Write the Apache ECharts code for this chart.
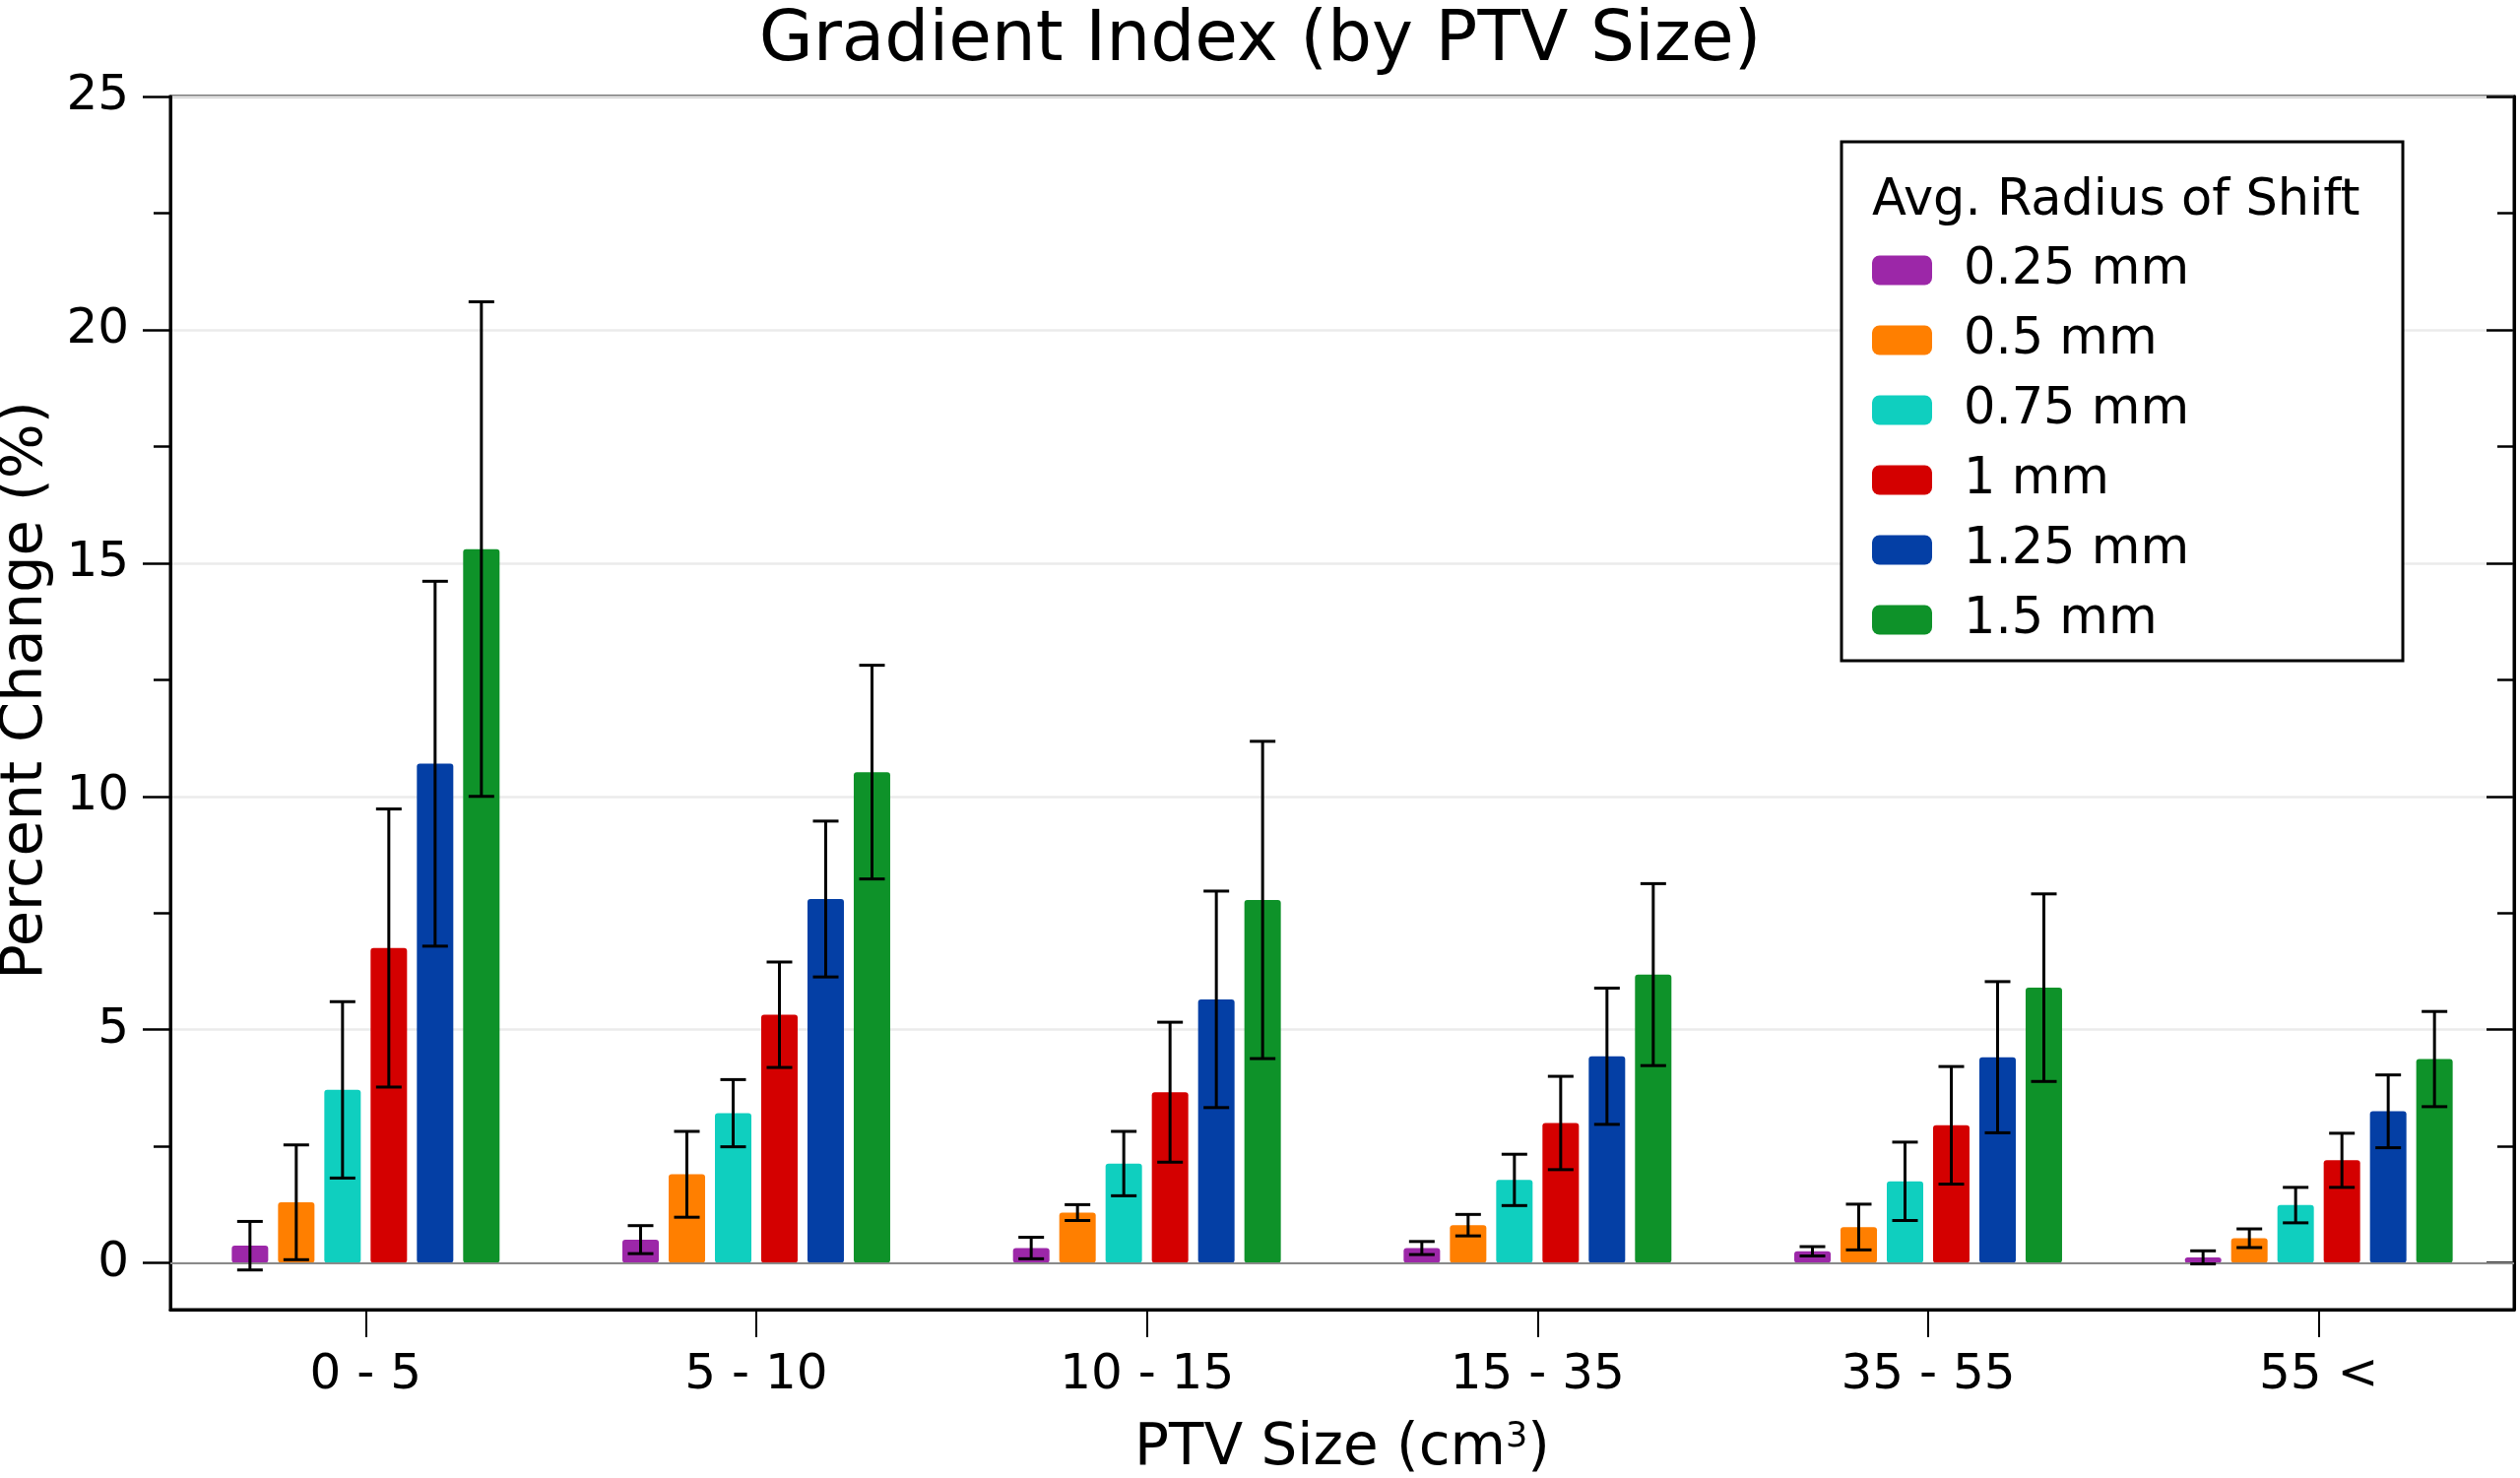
<!DOCTYPE html>
<html><head><meta charset="utf-8">
<script src="https://cdn.jsdelivr.net/npm/echarts@6/dist/echarts.min.js"></script>
<style>html,body{margin:0;padding:0;background:#fff}#c{width:2559px;height:1501px}</style>
</head><body><div id="c"></div>
<script>
// ---- data ----
const categories = ['0 - 5', '5 - 10', '10 - 15', '15 - 35', '35 - 55', '55 <'];
const seriesNames = ['0.25 mm', '0.5 mm', '0.75 mm', '1 mm', '1.25 mm', '1.5 mm'];
const mean_025 = [0.37, 0.50, 0.32, 0.32, 0.25, 0.12];
const sd_025   = [0.52, 0.30, 0.23, 0.14, 0.10, 0.14];
const mean_05  = [1.30, 1.90, 1.08, 0.81, 0.77, 0.53];
const sd_05    = [1.23, 0.92, 0.17, 0.23, 0.49, 0.20];
const mean_075 = [3.71, 3.21, 2.13, 1.78, 1.75, 1.24];
const sd_075   = [1.89, 0.72, 0.69, 0.55, 0.84, 0.38];
const mean_1   = [6.75, 5.32, 3.66, 3.00, 2.95, 2.20];
const sd_1     = [2.98, 1.13, 1.50, 1.00, 1.26, 0.58];
const mean_125 = [10.70, 7.80, 5.65, 4.43, 4.41, 3.25];
const sd_125   = [3.91, 1.67, 2.32, 1.46, 1.62, 0.78];
const mean_15  = [15.30, 10.52, 7.78, 6.18, 5.90, 4.37];
const sd_15    = [5.30, 2.29, 3.40, 1.95, 2.01, 1.02];
const yMajorTicks = [0, 5, 10, 15, 20, 25];
const yMinorTicks = [2.5, 7.5, 12.5, 17.5, 22.5];

const means = [mean_025, mean_05, mean_075, mean_1, mean_125, mean_15];
const sds = [sd_025, sd_05, sd_075, sd_1, sd_125, sd_15];
const colors = ['#9c27a8', '#ff7f00', '#0fcfbf', '#d40000', '#043fa5', '#0e9229'];

// ---- style ----
const FONT = 'DejaVu Sans';
const BAR_W = 37, BAR_SP = 10, CAP = 13;
const GRID = {left: 173, right: 6, top: 98, bottom: 171};

const chart = echarts.init(document.getElementById('c'), null, {renderer: 'canvas'});

const tickStyle = {color: '#000', width: 2.5};
const yAxes = [
  { // left, major ticks + labels (grid 0)
    type: 'value', min: -1, max: 25, gridIndex: 0, position: 'left',
    name: 'Percent Change (%)', nameLocation: 'middle', nameGap: 112,
    nameTextStyle: {fontSize: 59, color: '#000', fontFamily: FONT, padding: [0, 0, 0, 26]},
    axisLine: {show: true, lineStyle: {color: '#000', width: 3}},
    axisTick: {show: true, length: 28, lineStyle: tickStyle, customValues: yMajorTicks},
    axisLabel: {show: true, fontSize: 50, color: '#000', fontFamily: FONT, margin: 42, customValues: yMajorTicks},
    splitLine: {show: true, lineStyle: {color: '#ebebeb', width: 2.5}}
  },
  { // right, major ticks inside (grid 0)
    type: 'value', min: -1, max: 25, gridIndex: 0, position: 'right',
    axisLine: {show: true, lineStyle: {color: '#000', width: 3}},
    axisTick: {show: true, inside: true, length: 28, lineStyle: tickStyle, customValues: yMajorTicks},
    axisLabel: {show: false}, splitLine: {show: false}
  },
  { // left, minor ticks (grid 1)
    type: 'value', min: -1, max: 25, gridIndex: 1, position: 'left',
    axisLine: {show: false},
    axisTick: {show: true, length: 17, lineStyle: tickStyle, customValues: yMinorTicks},
    axisLabel: {show: false}, splitLine: {show: false}
  },
  { // right, minor ticks inside (grid 1)
    type: 'value', min: -1, max: 25, gridIndex: 1, position: 'right',
    axisLine: {show: false},
    axisTick: {show: true, inside: true, length: 17, lineStyle: tickStyle, customValues: yMinorTicks},
    axisLabel: {show: false}, splitLine: {show: false}
  }
];

const series = [];
seriesNames.forEach((nm, i) => {
  series.push({
    type: 'bar', name: nm, xAxisIndex: 0, yAxisIndex: 0,
    barWidth: BAR_W, barGap: (BAR_SP / BAR_W * 100).toFixed(1) + '%',
    itemStyle: {color: colors[i], borderRadius: 3},
    data: means[i], z: 2
  });
});
seriesNames.forEach((nm, i) => {
  series.push({
    type: 'custom', name: 'err' + i, xAxisIndex: 0, yAxisIndex: 0, z: 10,
    data: categories.map((c, j) => [j, means[i][j], sds[i][j]]),
    encode: {x: 0, y: 1},
    renderItem: (params, api) => {
      const c = api.value(0), m = api.value(1), s = api.value(2);
      const hi = api.coord([c, m + s]);
      const lo = api.coord([c, m - s]);
      const x = hi[0] + (i - 2.5) * (BAR_W + BAR_SP);
      const st = {stroke: '#000', lineWidth: 3};
      return {type: 'group', children: [
        {type: 'line', shape: {x1: x, y1: hi[1], x2: x, y2: lo[1]}, style: st},
        {type: 'line', shape: {x1: x - CAP, y1: hi[1], x2: x + CAP, y2: hi[1]}, style: st},
        {type: 'line', shape: {x1: x - CAP, y1: lo[1], x2: x + CAP, y2: lo[1]}, style: st}
      ]};
    },
    markLine: i === 5 ? {
      silent: true, symbol: ['none', 'none'], label: {show: false},
      lineStyle: {color: '#8a8a8a', width: 2, type: 'solid'},
      data: [{yAxis: 0}]
    } : undefined
  });
});

const option = {
  backgroundColor: '#fff',
  animation: false,
  textStyle: {fontFamily: FONT, color: '#000'},
  title: {
    text: 'Gradient Index (by PTV Size)', left: 'center', top: 7, padding: 0,
    textStyle: {fontSize: 71, fontWeight: 'normal', color: '#000', fontFamily: FONT}
  },
  grid: [
    Object.assign({show: true, borderColor: '#000', borderWidth: 3, backgroundColor: 'transparent', outerBoundsMode: 'none', containLabel: false}, GRID),
    Object.assign({show: false, outerBoundsMode: 'none', containLabel: false}, GRID)
  ],
  legend: {
    data: seriesNames, orient: 'vertical', left: 1901, top: 249, padding: 0,
    itemWidth: 61, itemHeight: 30, itemGap: 20, icon: 'roundRect',
    textStyle: {fontSize: 51, lineHeight: 51, color: '#000', fontFamily: FONT, padding: [0, 0, 0, 27]},
    selectedMode: false, z: 20
  },
  graphic: [
    {type: 'rect', shape: {x: 1870, y: 144, width: 570, height: 527}, style: {fill: '#fff', stroke: '#000', lineWidth: 3}, z: 15},
    {type: 'text', x: 1901, y: 205, style: {text: 'Avg. Radius of Shift', font: '51px "DejaVu Sans"', fill: '#000', verticalAlign: 'middle', align: 'left'}, z: 16}
  ],
  xAxis: [
    {
      type: 'category', data: categories, position: 'bottom', gridIndex: 0,
      name: '{a|PTV Size (cm}{s|3}{a|)}', nameLocation: 'middle', nameGap: 112,
      nameTextStyle: {rich: {
        a: {fontSize: 58, color: '#000', fontFamily: FONT},
        s: {fontSize: 35, color: '#000', fontFamily: FONT, verticalAlign: 'top', padding: [0, 0, 25, 0]}
      }},
      axisLine: {show: true, onZero: false, lineStyle: {color: '#000', width: 3}},
      axisTick: {show: true, alignWithLabel: true, length: 28, lineStyle: {color: '#000', width: 2}},
      axisLabel: {fontSize: 50, color: '#000', fontFamily: FONT, margin: 42},
      splitLine: {show: false}
    },
    {
      type: 'category', data: categories, gridIndex: 1, show: false
    }
  ],
  yAxis: yAxes,
  series: series
};
chart.setOption(option);
</script>
</body></html>
